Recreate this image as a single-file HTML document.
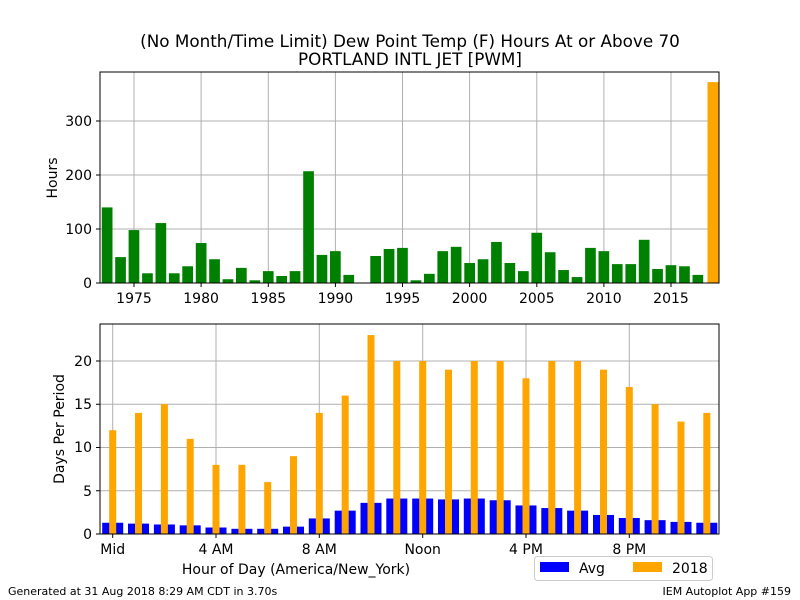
<!DOCTYPE html>
<html><head><meta charset="utf-8"><style>body{margin:0;background:#fff}svg{display:block;font-family:"DejaVu Sans","Liberation Sans",sans-serif}</style></head>
<body>
<svg width="800" height="600" viewBox="0 0 800 600" xmlns="http://www.w3.org/2000/svg">
<rect width="800" height="600" fill="#fff"/>
<text x="410" y="47" font-size="16.8" text-anchor="middle">(No Month/Time Limit) Dew Point Temp (F) Hours At or Above 70</text>
<text x="410" y="65" font-size="16.8" text-anchor="middle">PORTLAND INTL JET [PWM]</text>
<g stroke="#b0b0b0" stroke-width="1">
<line x1="100" x2="719" y1="229" y2="229"/><line x1="100" x2="719" y1="175" y2="175"/><line x1="100" x2="719" y1="121" y2="121"/>
<line x1="134" x2="134" y1="72" y2="283"/><line x1="201.1" x2="201.1" y1="72" y2="283"/><line x1="268.3" x2="268.3" y1="72" y2="283"/><line x1="335.4" x2="335.4" y1="72" y2="283"/><line x1="402.5" x2="402.5" y1="72" y2="283"/><line x1="469.6" x2="469.6" y1="72" y2="283"/><line x1="536.8" x2="536.8" y1="72" y2="283"/><line x1="603.9" x2="603.9" y1="72" y2="283"/><line x1="671" x2="671" y1="72" y2="283"/>
</g>
<g transform="translate(0,283) scale(1,-0.54)" fill="#008000">
<rect x="101.8" width="10.7" height="140"/><rect x="115.2" width="10.7" height="48"/><rect x="128.6" width="10.7" height="98"/><rect x="142.1" width="10.7" height="18"/><rect x="155.5" width="10.7" height="111"/><rect x="168.9" width="10.7" height="18"/><rect x="182.3" width="10.7" height="31"/><rect x="195.8" width="10.7" height="74"/><rect x="209.2" width="10.7" height="44"/><rect x="222.6" width="10.7" height="7"/><rect x="236.0" width="10.7" height="28"/><rect x="249.5" width="10.7" height="5"/><rect x="262.9" width="10.7" height="22"/><rect x="276.3" width="10.7" height="13"/><rect x="289.7" width="10.7" height="22"/><rect x="303.2" width="10.7" height="207"/><rect x="316.6" width="10.7" height="52"/><rect x="330.0" width="10.7" height="59"/><rect x="343.4" width="10.7" height="15"/><rect x="356.9" width="10.7" height="0.5"/><rect x="370.3" width="10.7" height="50"/><rect x="383.7" width="10.7" height="63"/><rect x="397.1" width="10.7" height="65"/><rect x="410.6" width="10.7" height="5"/><rect x="424.0" width="10.7" height="17"/><rect x="437.4" width="10.7" height="59"/><rect x="450.8" width="10.7" height="67"/><rect x="464.3" width="10.7" height="37"/><rect x="477.7" width="10.7" height="44"/><rect x="491.1" width="10.7" height="76"/><rect x="504.5" width="10.7" height="37"/><rect x="518.0" width="10.7" height="22"/><rect x="531.4" width="10.7" height="93"/><rect x="544.8" width="10.7" height="57"/><rect x="558.2" width="10.7" height="24"/><rect x="571.7" width="10.7" height="11"/><rect x="585.1" width="10.7" height="65"/><rect x="598.5" width="10.7" height="59"/><rect x="611.9" width="10.7" height="35"/><rect x="625.4" width="10.7" height="35"/><rect x="638.8" width="10.7" height="80"/><rect x="652.2" width="10.7" height="26"/><rect x="665.6" width="10.7" height="33"/><rect x="679.1" width="10.7" height="31"/><rect x="692.5" width="10.7" height="15"/>
<rect x="707.5" width="11.5" height="372" fill="#ffa500"/>
</g>
<rect x="100" y="72" width="619" height="211" fill="none" stroke="#000" stroke-width="1"/>
<g stroke="#000"><line x1="96" x2="100" y1="283" y2="283"/><line x1="96" x2="100" y1="229" y2="229"/><line x1="96" x2="100" y1="175" y2="175"/><line x1="96" x2="100" y1="121" y2="121"/>
<line x1="134" x2="134" y1="283" y2="287"/><line x1="201.1" x2="201.1" y1="283" y2="287"/><line x1="268.3" x2="268.3" y1="283" y2="287"/><line x1="335.4" x2="335.4" y1="283" y2="287"/><line x1="402.5" x2="402.5" y1="283" y2="287"/><line x1="469.6" x2="469.6" y1="283" y2="287"/><line x1="536.8" x2="536.8" y1="283" y2="287"/><line x1="603.9" x2="603.9" y1="283" y2="287"/><line x1="671" x2="671" y1="283" y2="287"/></g>
<g font-size="14" text-anchor="end"><text x="92" y="288">0</text><text x="92" y="234">100</text><text x="92" y="180">200</text><text x="92" y="126">300</text></g>
<g font-size="14" text-anchor="middle"><text x="134" y="303">1975</text><text x="201.1" y="303">1980</text><text x="268.3" y="303">1985</text><text x="335.4" y="303">1990</text><text x="402.5" y="303">1995</text><text x="469.6" y="303">2000</text><text x="536.8" y="303">2005</text><text x="603.9" y="303">2010</text><text x="671" y="303">2015</text></g>
<text transform="translate(57,178) rotate(-90)" font-size="14" text-anchor="middle">Hours</text>
<g stroke="#b0b0b0" stroke-width="1">
<line x1="100" x2="719" y1="490.75" y2="490.75"/><line x1="100" x2="719" y1="447.5" y2="447.5"/><line x1="100" x2="719" y1="404.25" y2="404.25"/><line x1="100" x2="719" y1="361" y2="361"/>
<line x1="112.7" x2="112.7" y1="324" y2="534"/><line x1="216" x2="216" y1="324" y2="534"/><line x1="319.3" x2="319.3" y1="324" y2="534"/><line x1="422.7" x2="422.7" y1="324" y2="534"/><line x1="526" x2="526" y1="324" y2="534"/><line x1="629.3" x2="629.3" y1="324" y2="534"/>
</g>
<g transform="translate(0,534) scale(1,-8.65)">
<g fill="#0000ff">
<rect x="102.2" width="21" height="1.3"/><rect x="128.0" width="21" height="1.2"/><rect x="153.9" width="21" height="1.1"/><rect x="179.7" width="21" height="1.0"/><rect x="205.5" width="21" height="0.75"/><rect x="231.4" width="21" height="0.6"/><rect x="257.2" width="21" height="0.6"/><rect x="283.0" width="21" height="0.85"/><rect x="308.8" width="21" height="1.8"/><rect x="334.7" width="21" height="2.7"/><rect x="360.5" width="21" height="3.6"/><rect x="386.3" width="21" height="4.1"/><rect x="412.2" width="21" height="4.1"/><rect x="438.0" width="21" height="4.0"/><rect x="463.8" width="21" height="4.1"/><rect x="489.7" width="21" height="3.9"/><rect x="515.5" width="21" height="3.3"/><rect x="541.3" width="21" height="3.0"/><rect x="567.1" width="21" height="2.7"/><rect x="593.0" width="21" height="2.2"/><rect x="618.8" width="21" height="1.85"/><rect x="644.6" width="21" height="1.6"/><rect x="670.5" width="21" height="1.4"/><rect x="696.3" width="21" height="1.3"/>
</g>
<g fill="#ffa500">
<rect x="109.2" width="7" height="12"/><rect x="135.0" width="7" height="14"/><rect x="160.9" width="7" height="15"/><rect x="186.7" width="7" height="11"/><rect x="212.5" width="7" height="8"/><rect x="238.4" width="7" height="8"/><rect x="264.2" width="7" height="6"/><rect x="290.0" width="7" height="9"/><rect x="315.8" width="7" height="14"/><rect x="341.7" width="7" height="16"/><rect x="367.5" width="7" height="23"/><rect x="393.3" width="7" height="20"/><rect x="419.2" width="7" height="20"/><rect x="445.0" width="7" height="19"/><rect x="470.8" width="7" height="20"/><rect x="496.7" width="7" height="20"/><rect x="522.5" width="7" height="18"/><rect x="548.3" width="7" height="20"/><rect x="574.1" width="7" height="20"/><rect x="600.0" width="7" height="19"/><rect x="625.8" width="7" height="17"/><rect x="651.6" width="7" height="15"/><rect x="677.5" width="7" height="13"/><rect x="703.3" width="7" height="14"/>
</g></g>
<rect x="100" y="324" width="619" height="210" fill="none" stroke="#000" stroke-width="1"/>
<g stroke="#000"><line x1="96" x2="100" y1="534" y2="534"/><line x1="96" x2="100" y1="490.75" y2="490.75"/><line x1="96" x2="100" y1="447.5" y2="447.5"/><line x1="96" x2="100" y1="404.25" y2="404.25"/><line x1="96" x2="100" y1="361" y2="361"/>
<line x1="112.7" x2="112.7" y1="534" y2="538"/><line x1="216" x2="216" y1="534" y2="538"/><line x1="319.3" x2="319.3" y1="534" y2="538"/><line x1="422.7" x2="422.7" y1="534" y2="538"/><line x1="526" x2="526" y1="534" y2="538"/><line x1="629.3" x2="629.3" y1="534" y2="538"/></g>
<g font-size="14" text-anchor="end"><text x="92" y="539">0</text><text x="92" y="496">5</text><text x="92" y="452">10</text><text x="92" y="409">15</text><text x="92" y="366">20</text></g>
<g font-size="14" text-anchor="middle"><text x="112.7" y="554">Mid</text><text x="216" y="554">4 AM</text><text x="319.3" y="554">8 AM</text><text x="422.7" y="554">Noon</text><text x="526" y="554">4 PM</text><text x="629.3" y="554">8 PM</text></g>
<text transform="translate(64,429) rotate(-90)" font-size="14" text-anchor="middle">Days Per Period</text>
<text x="296" y="574" font-size="14" text-anchor="middle">Hour of Day (America/New_York)</text>
<rect x="534.5" y="556.5" width="178" height="24" rx="3" fill="#fff" stroke="#ccc"/>
<rect x="540" y="562" width="29" height="10" fill="#0000ff"/><text x="579" y="573" font-size="14">Avg</text>
<rect x="633" y="562" width="29" height="10" fill="#ffa500"/><text x="672" y="573" font-size="14">2018</text>
<text x="8" y="595" font-size="11">Generated at 31 Aug 2018 8:29 AM CDT in 3.70s</text>
<text x="791" y="595" font-size="11" text-anchor="end">IEM Autoplot App #159</text>
</svg>
</body></html>
